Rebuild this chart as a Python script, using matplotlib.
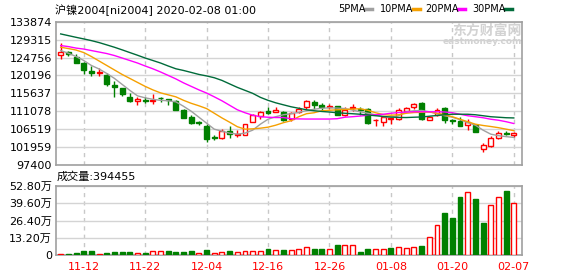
import numpy as np
import matplotlib
matplotlib.use('Agg')
import matplotlib.pyplot as plt
from matplotlib.lines import Line2D

plt.rcParams['font.family'] = ['DejaVu Sans', 'Noto Sans CJK SC']

# trading days 2019-11-07 .. 2020-02-07
dates = ['11-07', '11-08', '11-11', '11-12', '11-13', '11-14', '11-15', '11-18', '11-19', '11-20',
         '11-21', '11-22', '11-25', '11-26', '11-27', '11-28', '11-29', '12-02', '12-03', '12-04',
         '12-05', '12-06', '12-09', '12-10', '12-11', '12-12', '12-13', '12-16', '12-17', '12-18',
         '12-19', '12-20', '12-23', '12-24', '12-25', '12-26', '12-27', '12-30', '12-31', '01-02',
         '01-03', '01-06', '01-07', '01-08', '01-09', '01-10', '01-13', '01-14', '01-15', '01-16',
         '01-17', '01-20', '01-21', '01-22', '01-23', '02-03', '02-04', '02-05', '02-06', '02-07']

opens = [125350, 126190, 125010, 123240, 121210, 120870, 120200, 117830, 116990, 114710,
         113610, 113860, 113610, 114540, 114120, 113610, 111500, 109560, 108290, 107450,
         104410, 104240, 106010, 105080, 105000, 108380, 109820, 111160, 110990, 110910,
         109220, 111000, 112090, 113530, 112770, 112180, 112350, 110230, 111840, 111750,
         111670, 108800, 108290, 109060, 109140, 111080, 112180, 113190, 108970, 110230,
         111920, 108800, 108540, 107620, 107700, 101370, 102210, 104160, 105420, 105080]
highs = [128380, 126440, 125600, 123490, 122640, 122050, 120790, 118680, 116990, 115720,
         114710, 114710, 115550, 114710, 114290, 114030, 111670, 110230, 108710, 107960,
         104910, 106690, 107450, 106430, 107960, 110400, 111080, 112090, 112180, 111250,
         110820, 112180, 114030, 114030, 113190, 112850, 112520, 112180, 113020, 112090,
         111920, 109140, 109810, 109560, 111840, 112180, 113270, 113360, 109980, 111920,
         112180, 109220, 109560, 109220, 107960, 103060, 104750, 106180, 106010, 105850]
lows = [124500, 125180, 123240, 120530, 119940, 119940, 117410, 114710, 114880, 113360,
        112600, 113190, 113020, 113360, 112600, 111500, 109300, 107790, 107620, 103220,
        103730, 104070, 104240, 104580, 104910, 108380, 109060, 110400, 110820, 108710,
        108540, 110660, 111670, 111750, 111080, 111670, 110060, 109810, 111080, 110230,
        107960, 107280, 107450, 107960, 108880, 110820, 111670, 108970, 108800, 109810,
        108120, 107960, 107280, 106270, 105850, 100690, 102040, 104070, 105000, 104580]
closes = [126190, 125690, 123320, 121460, 120790, 121040, 117990, 117240, 115460, 113780,
          114290, 113700, 113950, 114370, 113950, 111500, 109390, 108040, 108120, 104070,
          104240, 106180, 105170, 105340, 107960, 110150, 110820, 110740, 111330, 108970,
          110660, 111670, 113780, 112770, 112180, 112520, 110060, 111500, 112180, 111500,
          108120, 108960, 109640, 109310, 111410, 112010, 112940, 109140, 109560, 111330,
          108970, 108630, 107450, 108460, 105850, 102470, 104320, 105420, 105250, 105420]

ma5 = [126530, 125850, 125010, 124000, 122730, 121840, 120700, 119440, 117920, 116400,
       115000, 114500, 114120, 113860, 113740, 113480, 112340, 111080, 109560, 108040,
       106520, 106010, 105510, 105250, 105510, 106270, 107790, 109050, 109690, 110190,
       110450, 110820, 111210, 111590, 111840, 111960, 111890, 111760, 111380, 110950,
       110570, 110190, 109690, 109560, 109940, 110950, 111210, 111280, 110950, 110450,
       109940, 109560, 108930, 108170, 107530, 106270, 105250, 104870, 104620, 104420]
ma10 = [127370, 127040, 126660, 126020, 125010, 123870, 122730, 121590, 120450, 119440,
        118420, 117410, 116520, 115760, 115260, 114750, 113860, 113100, 112470, 111760,
        110570, 109380, 108290, 107150, 106520, 106600, 106770, 107030, 107530, 108170,
        108670, 109690, 110450, 110700, 111210, 111330, 111460, 111530, 111640, 111710,
        111330, 110700, 110240, 110070, 110190, 110570, 110750, 110820, 110900, 110570,
        110190, 109690, 109050, 108420, 107790, 107460, 107200, 106900, 106520, 106140]
ma20 = [127800, 127540, 127160, 126910, 126530, 126150, 125770, 125260, 124630, 124000,
        123360, 122600, 121890, 121080, 120200, 119310, 118300, 117410, 116520, 115710,
        114750, 113740, 112600, 111460, 110700, 110070, 109690, 109560, 109480, 109480,
        109180, 109130, 109100, 109100, 109100, 109100, 109180, 109560, 109690, 109860,
        110070, 110190, 110320, 110570, 110750, 110880, 110950, 110950, 110950, 110950,
        110900, 110700, 110320, 109940, 109690, 109430, 109050, 108800, 108420, 107960]
ma30 = [130760, 130330, 129900, 129490, 129060, 128560, 127970, 127370, 126710, 126020,
        125340, 124630, 124000, 123360, 122600, 121890, 121460, 120960, 120450, 120070,
        119610, 118930, 118040, 117160, 116400, 115640, 114620, 113860, 113230, 112720,
        112220, 111840, 111460, 111210, 111030, 110880, 110700, 110570, 110450, 110320,
        110120, 109940, 109760, 109610, 109510, 109480, 109560, 109630, 109810, 110010,
        110190, 110320, 110320, 110320, 110190, 109940, 109690, 109560, 109430, 109380]

volumes = [8000, 8000, 16000, 31000, 31000, 8000, 16000, 23000, 23000, 23000,
           16000, 16000, 31000, 31000, 31000, 23000, 23000, 31000, 16000, 38000,
           16000, 23000, 31000, 23000, 31000, 31000, 31000, 46000, 38000, 38000,
           38000, 46000, 59000, 46000, 46000, 46000, 77000, 77000, 77000, 20000,
           46000, 46000, 46000, 56000, 59000, 51000, 59000, 69000, 135000, 230000,
           324000, 285000, 446000, 480000, 428000, 247000, 383000, 441000, 490000, 394455]

price_ticks = [97400, 101959, 106519, 111078, 115637, 120196, 124756, 129315, 133874]
vol_ticks = [0, 132000, 264000, 396000, 528000]
vol_tick_labels = ['0', '13.20万', '26.40万', '39.60万', '52.80万']
date_labels = ['11-12', '11-22', '12-04', '12-16', '12-26', '01-08', '01-20', '02-07']

RED = '#ff0000'
GREEN = '#008000'
ma_colors = ['#a0a0a0', '#f5a000', '#ff00ff', '#006b3a']
ma_names = ['5PMA', '10PMA', '20PMA', '30PMA']

W, H = 578, 276
fig = plt.figure(figsize=(W / 100, H / 100), dpi=100)


def px_axes(l, t, r, b):
    return fig.add_axes([l / W, 1 - b / H, (r - l) / W, (b - t) / H])


ax = px_axes(56, 21.7, 522, 165)
axv = px_axes(56, 186, 522, 255)

x = np.arange(len(dates))
o = np.array(opens)
c = np.array(closes)
up = c >= o
vol_up = np.diff(c, prepend=c[0] - 1) >= 0
tick_pos = [dates.index(d) for d in date_labels]

for a in (ax, axv):
    a.set_xlim(-0.61, 60.07)
    a.set_facecolor('white')
    for s in a.spines.values():
        s.set_color('#a0a0a0')
        s.set_linewidth(1.2)
    a.grid(axis='y', color='#d4d4d4', lw=1)
    for p in tick_pos:
        a.axvline(p, color='#c8c8c8', lw=1, ls=(0, (3, 3)), zorder=0.5)
    a.set_axisbelow(True)
    a.tick_params(length=0, labelsize=8, pad=3, colors='black')

# candles
body_w = 0.64
cols = np.where(up, RED, GREEN)
ax.vlines(x, lows, highs, colors=cols, lw=1, zorder=2)
heights = np.maximum(np.abs(c - o), 120)
bottoms = np.minimum(o, c)
ax.bar(x, heights, bottom=bottoms, width=body_w,
       color=np.where(up, 'white', GREEN), edgecolor=cols, lw=1, zorder=3)

for vals, col in zip([ma5, ma10, ma20, ma30], ma_colors):
    ax.plot(x, vals, color=col, lw=1, zorder=4)

ax.set_ylim(97400, 133874)
ax.set_yticks(price_ticks)
ax.set_yticklabels([str(t) for t in price_ticks])
ax.set_xticks(tick_pos)
ax.set_xticklabels([])

# volume
vcols = np.where(vol_up, RED, GREEN)
axv.bar(x, volumes, width=body_w, color=np.where(vol_up, 'white', GREEN),
        edgecolor=vcols, lw=1, zorder=3)
axv.set_ylim(0, 528000)
axv.set_yticks(vol_ticks)
axv.set_yticklabels(vol_tick_labels)
axv.set_xticks(tick_pos)
axv.set_xticklabels(date_labels, color=RED)
axv.tick_params(axis='x', pad=5)


def fx(px):
    return px / W


def fy(py):
    return 1 - py / H


fig.text(fx(55), fy(10), '沪镍2004[ni2004] 2020-02-08 01:00', fontsize=8, va='center', ha='left')
fig.text(fx(57), fy(177), '成交量:394455', fontsize=8, va='center', ha='left')

# legend
leg_x = [338, 380, 425, 472]
line_x = [365, 413, 458, 505]
for name, col, tx, lx in zip(ma_names, ma_colors, leg_x, line_x):
    fig.text(fx(tx), fy(9), name, fontsize=7, va='center', ha='left')
    fig.add_artist(Line2D([fx(lx), fx(lx + 7)], [fy(9), fy(9)], color=col, lw=2.5))

# watermark
fig.text(fx(522), fy(31), '东方财富网', fontsize=10, color='#d2d2d2', fontweight='bold',
         ha='right', va='center', family=['Noto Sans CJK SC'])
fig.text(fx(522), fy(42), 'eastmoney.com', fontsize=6.5, color='#d2d2d2', fontweight='bold',
         ha='right', va='center')

fig.savefig('out.png', dpi=100)
